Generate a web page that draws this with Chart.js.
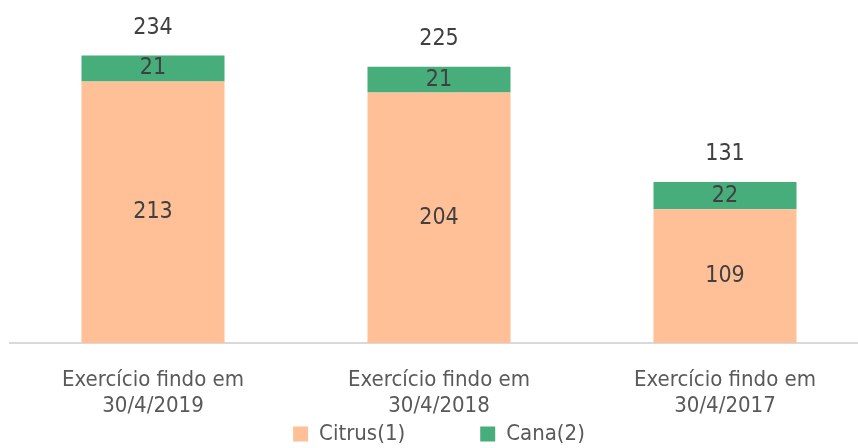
<!DOCTYPE html>
<html>
<head>
<meta charset="utf-8">
<script src="https://cdn.jsdelivr.net/npm/chart.js@4/dist/chart.umd.min.js"></script>
<style>
  body { margin: 0; background: #fff; overflow: hidden; }
  #wrap { width: 870px; height: 448px; }
</style>
</head>
<body>
<div id="wrap"><canvas id="grafica"></canvas></div>
<script>
// dados
var categorias = [['Exercício findo em', '30/4/2019'], ['Exercício findo em', '30/4/2018'], ['Exercício findo em', '30/4/2017']];
var citrus = [213, 204, 109];
var cana = [21, 21, 22];
var totais = [234, 225, 131];

var fonte = "'DejaVu Sans Condensed', 'Liberation Sans Narrow', sans-serif";
Chart.defaults.font.family = fonte;
Chart.defaults.color = '#595959';

var espacoLegenda = 75; // distância entre os itens da legenda

// rótulos dos valores (sem plugin externo)
var rotulos = {
    id: 'rotulos',
    afterDatasetsDraw: function (chart) {
        var ctx = chart.ctx;
        ctx.save();
        ctx.font = '23px ' + fonte;
        ctx.fillStyle = '#404040';
        ctx.textAlign = 'center';
        ctx.textBaseline = 'middle';
        chart.data.datasets.forEach(function (ds, i) {
            chart.getDatasetMeta(i).data.forEach(function (bar, j) {
                ctx.fillText(ds.data[j], bar.x, (bar.y + bar.base) / 2);
            });
        });
        var topo = chart.getDatasetMeta(chart.data.datasets.length - 1).data;
        topo.forEach(function (bar, j) {
            ctx.fillText(totais[j], bar.x, bar.y - 28);
        });
        ctx.restore();
    }
};

var ctx = document.getElementById('grafica').getContext('2d');
var grafica = new Chart(ctx, {
    type: 'bar',
    data: {
        labels: categorias,
        datasets: [{
            label: 'Citrus(1)',
            data: citrus,
            backgroundColor: '#FFBF97',
            barPercentage: 0.5,
            categoryPercentage: 1
        }, {
            label: 'Cana(2)',
            data: cana,
            backgroundColor: '#46AD7B',
            barPercentage: 0.5,
            categoryPercentage: 1
        }]
    },
    options: {
        responsive: true,
        maintainAspectRatio: false,
        animation: false,
        layout: { padding: { left: 10, right: 2, top: 20, bottom: -7 } },
        plugins: {
            legend: {
                position: 'bottom',
                labels: {
                    boxWidth: 15,
                    boxHeight: 15,
                    padding: espacoLegenda,
                    color: '#595959',
                    font: { size: 22 }
                }
            },
            tooltip: { enabled: false }
        },
        scales: {
            x: {
                stacked: true,
                grid: { display: false },
                border: { display: true, color: '#D9D9D9', width: 2 },
                // mirror evita o recorte dos rótulos; eles ficam sobre a área da legenda
                ticks: { color: '#595959', font: { size: 22 }, mirror: true, padding: -50, maxRotation: 0 },
                afterFit: function (scale) { scale.height = 80 - espacoLegenda; }
            },
            y: {
                stacked: true,
                display: false,
                min: 0,
                max: 263
            }
        }
    },
    plugins: [rotulos]
});
</script>
</body>
</html>
